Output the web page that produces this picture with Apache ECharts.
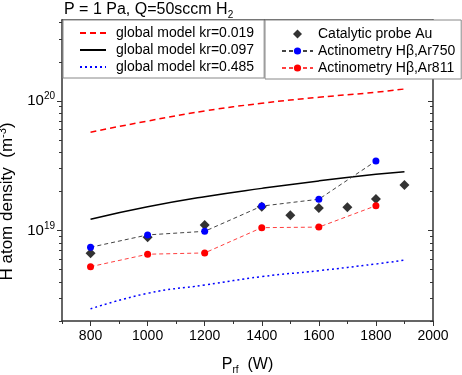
<!DOCTYPE html>
<html>
<head>
<meta charset="utf-8">
<script src="https://cdn.jsdelivr.net/npm/echarts@6/dist/echarts.min.js"></script>
<style>html,body{margin:0;padding:0;background:#fff}#c{width:462px;height:375px}</style>
</head>
<body>
<div id="c"></div>
<script>
// ---- data ----
const modelPower = [800, 1000, 1200, 1400, 1600, 1800, 1900];
const model_kr0019 = [5.72e19, 6.98e19, 8.34e19, 9.57e19, 1.064e20, 1.164e20, 1.233e20];
const model_kr0097 = [1.22e19, 1.52e19, 1.82e19, 2.11e19, 2.41e19, 2.71e19, 2.84e19];
const model_kr0485 = [2.48e18, 3.27e18, 3.79e18, 4.40e18, 4.89e18, 5.51e18, 5.90e18];

const probePower = [800, 1000, 1200, 1400, 1500, 1600, 1700, 1800, 1900];
const probeAu = [6.66e18, 8.85e18, 1.10e19, 1.52e19, 1.31e19, 1.49e19, 1.51e19, 1.75e19, 2.24e19];

const actPower = [800, 1000, 1200, 1400, 1600, 1800];
const actAr750 = [7.41e18, 9.23e18, 9.84e18, 1.54e19, 1.74e19, 3.43e19];
const actAr811 = [5.25e18, 6.55e18, 6.70e18, 1.05e19, 1.06e19, 1.55e19];

const xLabelTicks = [800, 1000, 1200, 1400, 1600, 1800, 2000];
const xMinorTicks = [700, 900, 1100, 1300, 1500, 1700, 1900];
const yDecades = [19, 20];
const yMin = 2e18, yMax = 4.2e20;

const names = ['global model kr=0.019', 'global model kr=0.097', 'global model kr=0.485',
  'Catalytic probe Au', 'Actinometry H\u03b2,Ar750', 'Actinometry H\u03b2,Ar811'];

// ---- helpers ----
const L = Math.log10;
const pts = (xs, ys) => xs.map((x, i) => [x, L(ys[i])]);
const yMinor = [];
for (let n = 18; n <= 20; n++) for (let k = 2; k <= 9; k++) {
  const v = L(k * Math.pow(10, n));
  if (v >= L(yMin) && v <= L(yMax)) yMinor.push(v);
}
const FF = '"Liberation Sans", Arial, sans-serif';
const axisLine = { show: true, onZero: false, lineStyle: { color: '#333', width: 1.5 } };
const txt = (size, extra) => Object.assign({ fontSize: size, fontFamily: FF, color: '#000', fontWeight: 'normal' }, extra || {});

const yBase = (pos, inside, len, vals, showLine, labels) => ({
  type: 'value', position: pos, min: L(yMin), max: L(yMax),
  splitLine: { show: false },
  axisLine: showLine ? axisLine : { show: false },
  axisTick: { show: true, inside: inside, length: len, customValues: vals, lineStyle: { color: '#333', width: 1 } },
  axisLabel: labels ? {
    show: true, customValues: yDecades, margin: 7,
    formatter: v => '{b|10}{s|' + Math.round(v) + '}',
    rich: { b: txt(15), s: txt(10, { padding: [0, 0, 9, 0] }) }
  } : { show: false }
});

const diamondIcon = 'path://M0,0 M31,9 M15.5,-0.5 L20.5,4.5 L15.5,9.5 L10.5,4.5 Z';

const chart = echarts.init(document.getElementById('c'), null, { renderer: 'canvas' });
chart.setOption({
  animation: false,
  backgroundColor: '#fff',
  title: {
    text: '{a|P = 1 Pa, Q=50sccm H}{sub|2}', left: 64, top: 0, padding: 0,
    textStyle: { rich: { a: txt(16), sub: txt(10, { padding: [10, 0, 0, 0] }) } }
  },
  grid: { left: 62, top: 20, right: 29, bottom: 54, containLabel: false, outerBoundsMode: 'none' },
  xAxis: [
    {
      type: 'value', position: 'bottom', min: 700, max: 2000,
      name: '{p|P}{r|rf}{w|  (W)}', nameLocation: 'middle', nameGap: 34,
      nameTextStyle: { rich: { p: txt(16), r: txt(10, { padding: [10, 0, 0, 0] }), w: txt(16) } },
      splitLine: { show: false },
      axisLine: axisLine,
      axisTick: { show: true, length: 5, customValues: xLabelTicks, lineStyle: { color: '#333' } },
      axisLabel: { show: true, customValues: xLabelTicks, formatter: v => String(v), fontSize: 14, fontFamily: FF, color: '#000', margin: 8 }
    },
    {
      type: 'value', position: 'bottom', min: 700, max: 2000,
      splitLine: { show: false }, axisLine: { show: false, onZero: false },
      axisTick: { show: true, length: 3, customValues: xMinorTicks, lineStyle: { color: '#333' } },
      axisLabel: { show: false }
    },
    {
      type: 'value', position: 'top', min: 700, max: 2000,
      splitLine: { show: false }, axisLine: axisLine,
      axisTick: { show: false }, axisLabel: { show: false }
    }
  ],
  yAxis: [
    Object.assign(yBase('left', false, 5, yDecades, true, true), {
      name: '{t|H atom density  (m}{s|-3}{t|)}', nameLocation: 'middle', nameGap: 40,
      nameTextStyle: { padding: [0, 62, 0, 0], rich: { t: txt(17), s: txt(11, { padding: [0, 0, 10, 0] }) } }
    }),
    yBase('left', false, 3, yMinor, false, false),
    yBase('right', true, 5, yDecades, true, false),
    yBase('right', true, 3, yMinor, false, false)
  ],
  legend: [
    {
      data: [
        { name: names[0], itemStyle: { opacity: 0 } },
        { name: names[1], itemStyle: { opacity: 0 } },
        { name: names[2], itemStyle: { opacity: 0 } }
      ],
      orient: 'vertical', left: 63, top: 20,
      padding: [6, 10, 4, 16], itemGap: 3, itemWidth: 26, itemHeight: 14,
      backgroundColor: '#fff', borderColor: '#888', borderWidth: 1,
      textStyle: txt(14, { padding: [0, 0, 0, 5] })
    },
    {
      data: [{ name: names[3], icon: diamondIcon }, names[4], names[5]],
      orient: 'vertical', left: 265, top: 20,
      padding: [6, 6, 3, 16], itemGap: 1, itemWidth: 31, itemHeight: 9,
      backgroundColor: '#fff', borderColor: '#888', borderWidth: 1,
      textStyle: txt(14, { lineHeight: 16 })
    }
  ],
  series: [
    {
      name: names[0], type: 'line', symbol: 'none', z: 2,
      data: pts(modelPower, model_kr0019), smooth: true,
      lineStyle: { color: '#ff0000', width: 1.5, type: [6, 4] }, itemStyle: { color: '#ff0000' }
    },
    {
      name: names[1], type: 'line', symbol: 'none', z: 2,
      data: pts(modelPower, model_kr0097), smooth: true,
      lineStyle: { color: '#000', width: 1.5, type: 'solid' }, itemStyle: { color: '#000' }
    },
    {
      name: names[2], type: 'line', symbol: 'none', z: 2,
      data: pts(modelPower, model_kr0485), smooth: true,
      lineStyle: { color: '#0000ff', width: 1.5, type: [2, 3] }, itemStyle: { color: '#0000ff' }
    },
    {
      name: names[3], type: 'scatter', symbol: 'diamond', symbolSize: 10, z: 3,
      data: pts(probePower, probeAu), itemStyle: { color: '#000' }
    },
    {
      name: names[4], type: 'line', symbol: 'circle', symbolSize: 7, z: 4,
      data: pts(actPower, actAr750),
      lineStyle: { color: '#444', width: 1, type: [4, 3] }, itemStyle: { color: '#0000ff' }
    },
    {
      name: names[5], type: 'line', symbol: 'circle', symbolSize: 7, z: 4,
      data: pts(actPower, actAr811),
      lineStyle: { color: '#ff4040', width: 1, type: [4, 3] }, itemStyle: { color: '#ff0000' }
    }
  ]
});
</script>
</body>
</html>
